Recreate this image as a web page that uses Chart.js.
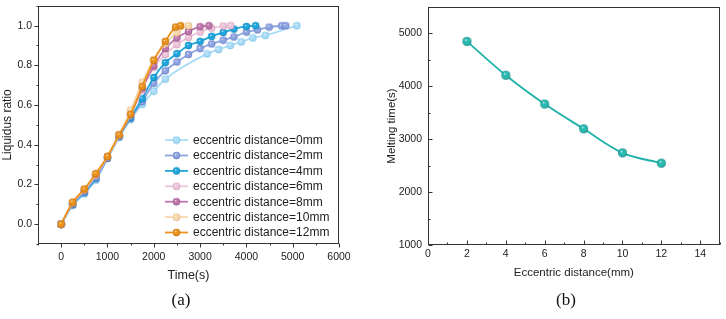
<!DOCTYPE html>
<html>
<head>
<meta charset="utf-8">
<script src="https://cdn.jsdelivr.net/npm/chart.js@4.4.0/dist/chart.umd.min.js"></script>
<style>
  body { margin: 0; background: #fff; }
  #wrap { position: relative; width: 726px; height: 319px; background: #fff; overflow: hidden; }
  canvas { position: absolute; top: 0; }
  .cap { position: absolute; top: 290px; font: 17px "Liberation Serif", "Times New Roman", serif; color: #111; transform: translateX(-50%); }
</style>
</head>
<body>
<div id="wrap">
  <canvas id="chartA" width="355" height="319" style="left:0"></canvas>
  <canvas id="chartB" width="366" height="319" style="left:360px"></canvas>
  <div class="cap" style="left:181px">(a)</div>
  <div class="cap" style="left:566px">(b)</div>
</div>
<script>
// (a) liquidus ratio vs time, one pair of arrays per eccentric distance
const labels = ['eccentric distance=0mm', 'eccentric distance=2mm', 'eccentric distance=4mm',
  'eccentric distance=6mm', 'eccentric distance=8mm', 'eccentric distance=10mm', 'eccentric distance=12mm'];

const time0 = [0, 250, 500, 750, 1000, 1250, 1500, 1750, 2000, 2250, 3150, 3400, 3650, 3890, 4140, 4410, 5090];
const ratio0 = [0, 0.094, 0.152, 0.222, 0.331, 0.437, 0.527, 0.604, 0.670, 0.731, 0.858, 0.880, 0.900, 0.918, 0.938, 0.951, 1.0];

const time2 = [0, 250, 500, 750, 1000, 1250, 1500, 1750, 2000, 2250, 2500, 2750, 3000, 3250, 3500, 3730, 4000, 4240, 4490, 4760, 4850];
const ratio2 = [0, 0.098, 0.158, 0.228, 0.332, 0.440, 0.532, 0.618, 0.710, 0.773, 0.817, 0.855, 0.885, 0.908, 0.927, 0.943, 0.968, 0.979, 0.993, 0.999, 1.0];

const time4 = [0, 250, 500, 750, 1000, 1250, 1500, 1750, 2000, 2250, 2500, 2750, 3000, 3250, 3500, 3730, 4000, 4200];
const ratio4 = [0, 0.100, 0.162, 0.234, 0.334, 0.443, 0.538, 0.632, 0.739, 0.814, 0.859, 0.900, 0.921, 0.946, 0.966, 0.983, 0.996, 1.0];

const time6 = [0, 250, 500, 750, 1000, 1250, 1500, 1750, 2000, 2250, 2500, 2750, 3000, 3250, 3500, 3660];
const ratio6 = [0, 0.104, 0.168, 0.242, 0.337, 0.446, 0.548, 0.675, 0.790, 0.855, 0.905, 0.941, 0.968, 0.988, 0.998, 1.0];

const time8 = [0, 250, 500, 750, 1000, 1250, 1500, 1750, 2000, 2250, 2500, 2750, 3000, 3190];
const ratio8 = [0, 0.106, 0.172, 0.248, 0.338, 0.448, 0.552, 0.685, 0.797, 0.885, 0.938, 0.971, 0.995, 1.0];

const time10 = [0, 250, 500, 750, 1000, 1250, 1500, 1750, 2000, 2250, 2500, 2750];
const ratio10 = [0, 0.108, 0.174, 0.252, 0.340, 0.449, 0.575, 0.715, 0.830, 0.910, 0.965, 1.0];

const time12 = [0, 250, 500, 750, 1000, 1250, 1500, 1750, 2000, 2250, 2470, 2580];
const ratio12 = [0, 0.111, 0.177, 0.255, 0.342, 0.450, 0.554, 0.693, 0.825, 0.921, 0.993, 1.0];

// (b) melting time vs eccentric distance
const distance = [2, 4, 6, 8, 10, 12];
const meltTime = [4850, 4210, 3665, 3197, 2742, 2547];

const colors = ['#a9dcf6', '#8fa4e0', '#1fa6dc', '#eec4db', '#bf76ac', '#f7d7ab', '#eb931d'];
const darks  = ['#6fb9e0', '#5b72bf', '#0e7fb0', '#c993b2', '#8e4a7e', '#d8ae78', '#b86a08'];
const teal = '#1fb1aa';

const FONT = '"Liberation Sans", Arial, Helvetica, sans-serif';

// little shaded ball used as marker
function ballImage(color, dark, r) {
  const c = document.createElement('canvas');
  const size = Math.round(r * 2 + 2);
  c.width = size; c.height = size;
  const ctx = c.getContext('2d');
  const cx = size / 2, cy = size / 2;
  const g = ctx.createRadialGradient(cx - r * 0.25, cy - r * 0.35, 0, cx, cy, r);
  g.addColorStop(0, '#ffffff');
  g.addColorStop(0.3, color);
  g.addColorStop(0.75, color);
  g.addColorStop(1, dark);
  ctx.fillStyle = g;
  ctx.beginPath();
  ctx.arc(cx, cy, r, 0, Math.PI * 2);
  ctx.fill();
  return c;
}

function pairs(xs, ys) {
  return xs.map((v, i) => ({ x: v, y: ys[i] }));
}

// no extra room for half labels at the ends, layout padding decides the plot box
function noEndPadding(s) {
  s.paddingTop = 0; s.paddingBottom = 0;
  s.paddingLeft = 0; s.paddingRight = 0;
}

// box around the plot + tick marks (major/minor)
const frameTicks = {
  id: 'frameTicks',
  afterDraw(chart, args, opts) {
    const { ctx, chartArea: a, scales: { x, y } } = chart;
    const dir = opts.inward ? -1 : 1;
    const L = Math.round(a.left) + 0.5, R = Math.round(a.right) - 0.5;
    const T = Math.round(a.top) + 0.5, B = Math.round(a.bottom) - 0.5;
    ctx.save();
    ctx.strokeStyle = '#333';
    ctx.lineWidth = 1;
    ctx.strokeRect(L, T, R - L, B - T);
    ctx.beginPath();
    x.ticks.forEach(t => {
      const px = Math.round(x.getPixelForValue(t.value)) + 0.5;
      const len = t.label !== '' ? 4 : 2;
      ctx.moveTo(px, B); ctx.lineTo(px, B + dir * len);
    });
    y.ticks.forEach(t => {
      const py = Math.round(y.getPixelForValue(t.value)) + 0.5;
      const len = t.label !== '' ? 4 : 2;
      ctx.moveTo(L, py); ctx.lineTo(L - dir * len, py);
    });
    ctx.stroke();
    ctx.restore();
  }
};

// legend drawn inside the plot, line + marker + text
const insideLegend = {
  id: 'insideLegend',
  afterDatasetsDraw(chart) {
    const { ctx, chartArea: a } = chart;
    const n = chart.data.datasets.length;
    ctx.save();
    ctx.font = '12px ' + FONT;
    ctx.textBaseline = 'middle';
    chart.data.datasets.forEach((ds, i) => {
      const yy = a.bottom - 11.5 - (n - 1 - i) * 15.4;
      const x0 = a.right - 174, x1 = a.right - 151;
      ctx.strokeStyle = ds.borderColor;
      ctx.lineWidth = 1.8;
      ctx.beginPath();
      ctx.moveTo(x0, yy); ctx.lineTo(x1, yy);
      ctx.stroke();
      const img = ds.pointStyle;
      ctx.drawImage(img, (x0 + x1) / 2 - img.width / 2, yy - img.height / 2);
      ctx.fillStyle = '#222';
      ctx.fillText(ds.label, x1 + 5, yy + 0.5);
    });
    ctx.restore();
  }
};

Chart.defaults.font.family = FONT;
Chart.defaults.color = '#222';

const seriesA = [
  pairs(time0, ratio0), pairs(time2, ratio2), pairs(time4, ratio4), pairs(time6, ratio6),
  pairs(time8, ratio8), pairs(time10, ratio10), pairs(time12, ratio12)
];

new Chart(document.getElementById('chartA'), {
  type: 'line',
  data: {
    datasets: seriesA.map((pts, i) => ({
      label: labels[i],
      data: pts,
      borderColor: colors[i],
      borderWidth: 1.8,
      pointStyle: ballImage(colors[i], darks[i], 3.7),
      pointRadius: 3.7,
      cubicInterpolationMode: 'monotone',
      order: seriesA.length - 1 - i
    }))
  },
  options: {
    responsive: false,
    animation: false,
    events: [],
    layout: { padding: { top: 3, right: 16, bottom: 35, left: 0 } },
    plugins: { legend: { display: false }, tooltip: { enabled: false }, frameTicks: { inward: false } },
    scales: {
      x: {
        type: 'linear', min: -500, max: 6000,
        grid: { display: false, drawTicks: false },
        border: { display: false },
        ticks: {
          stepSize: 500, autoSkip: false, maxRotation: 0, padding: 7,
          font: { size: 10.5 },
          callback: v => (v % 1000 === 0 ? String(v) : '')
        },
        title: { display: true, text: 'Time(s)', font: { size: 12.5 }, padding: { top: 0, bottom: 1 } },
        afterFit: s => { s.height = 40; noEndPadding(s); }
      },
      y: {
        min: -0.1, max: 1.1,
        grid: { display: false, drawTicks: false },
        border: { display: false },
        ticks: {
          stepSize: 0.1, autoSkip: false, padding: 6,
          font: { size: 10.5 },
          callback: v => {
            const k = Math.round(v * 10);
            return (k >= 0 && k % 2 === 0) ? (k / 10).toFixed(1) : '';
          }
        },
        title: { display: true, text: 'Liquidus ratio', font: { size: 12 }, padding: { top: 0, bottom: 0 } },
        afterFit: s => { s.width = 38; noEndPadding(s); }
      }
    }
  },
  plugins: [frameTicks, insideLegend]
});

new Chart(document.getElementById('chartB'), {
  type: 'line',
  data: {
    datasets: [{
      label: 'Melting time',
      data: pairs(distance, meltTime),
      borderColor: teal,
      borderWidth: 1.8,
      pointStyle: ballImage('#2bbab2', '#0b7f79', 4.5),
      pointRadius: 4.5,
      cubicInterpolationMode: 'monotone'
    }]
  },
  options: {
    responsive: false,
    animation: false,
    events: [],
    layout: { padding: { top: 7, right: 3, bottom: 38, left: 24 } },
    plugins: { legend: { display: false }, tooltip: { enabled: false }, frameTicks: { inward: true } },
    scales: {
      x: {
        type: 'linear', min: 0, max: 15,
        grid: { display: false, drawTicks: false },
        border: { display: false },
        ticks: {
          stepSize: 1, autoSkip: false, maxRotation: 0, padding: 3,
          font: { size: 10.5 },
          callback: v => (v % 2 === 0 && v <= 14 ? String(v) : '')
        },
        title: { display: true, text: 'Eccentric distance(mm)', font: { size: 11.5 }, padding: { top: 0, bottom: 1 } },
        afterFit: s => { s.height = 36; noEndPadding(s); }
      },
      y: {
        min: 1000, max: 5500,
        grid: { display: false, drawTicks: false },
        border: { display: false },
        ticks: {
          stepSize: 500, autoSkip: false, padding: 6,
          font: { size: 10.5 },
          callback: v => (v % 1000 === 0 ? String(v) : '')
        },
        title: { display: true, text: 'Melting time(s)', font: { size: 11.5 }, padding: { top: 1, bottom: 0 } },
        afterFit: s => { s.width = 44; noEndPadding(s); }
      }
    }
  },
  plugins: [frameTicks]
});
</script>
</body>
</html>
